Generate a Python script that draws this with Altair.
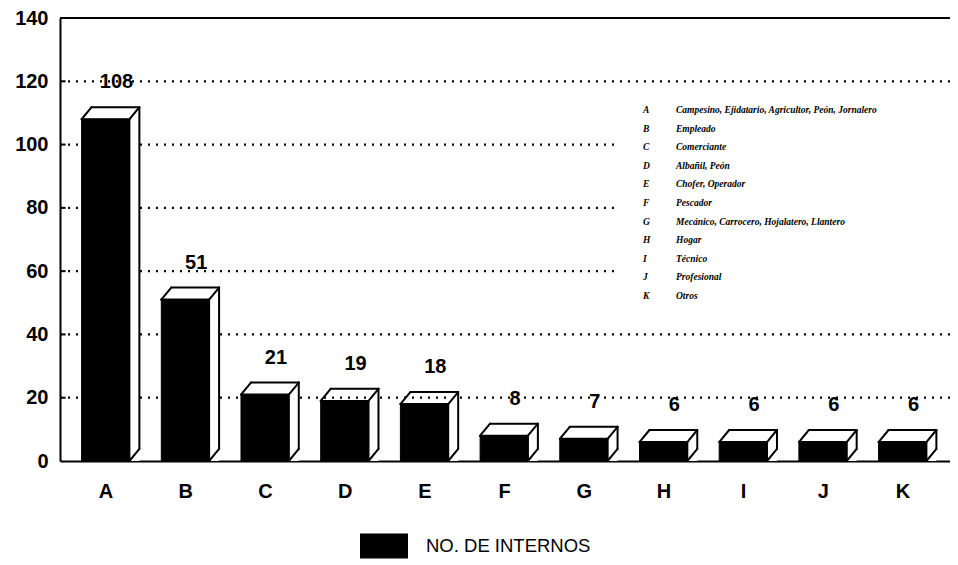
import altair as alt
import pandas as pd

# ---- data ----
categories = ["A", "B", "C", "D", "E", "F", "G", "H", "I", "J", "K"]
values = [108, 51, 21, 19, 18, 8, 7, 6, 6, 6, 6]
series_name = "NO. DE INTERNOS"
descriptions = [
    "Campesino, Ejidatario, Agricultor, Peón, Jornalero",
    "Empleado",
    "Comerciante",
    "Albañil, Peón",
    "Chofer, Operador",
    "Pescador",
    "Mecánico, Carrocero, Hojalatero, Llantero",
    "Hogar",
    "Técnico",
    "Profesional",
    "Otros",
]
y_ticks = [0, 20, 40, 60, 80, 100, 120, 140]
grid_values = [20, 40, 60, 80, 100, 120]

# ---- geometry / style constants ----
W, H = 890, 443
XMIN, XMAX = -0.571, 10.596
HW = 0.30      # half width of front face (x units)
DX = 0.125     # depth to the right (x units)
DY = 3.8       # depth upwards (y units)
FONT = "Liberation Sans"

bars = pd.DataFrame({
    "i": list(range(len(categories))),
    "cat": categories,
    "v": values,
    "series": [series_name] * len(categories),
})
bars["x0"] = bars["i"] - HW
bars["x1"] = bars["i"] + HW
bars["sx1"] = bars["i"] + HW + DX
bars["vt"] = bars["v"] + DY
bars["zero"] = 0.0

seg_rows = []
for i, v in zip(bars["i"], bars["v"]):
    seg_rows += [
        dict(x=i - HW + DX, y=v + DY, x2=i + HW + DX, y2=v + DY),   # back top edge
        dict(x=i - HW, y=v, x2=i - HW + DX, y2=v + DY),             # left diagonal
        dict(x=i + HW, y=v, x2=i + HW + DX, y2=v + DY),             # right diagonal
        dict(x=i + HW + DX, y=v + DY, x2=i + HW + DX, y2=DY),       # side right edge
        dict(x=i + HW + DX, y=DY, x2=i + HW, y2=0),                 # side bottom diagonal
        dict(x=i - HW, y=v, x2=i + HW, y2=v),                       # front top edge
        dict(x=i + HW, y=v, x2=i + HW, y2=0),                       # front right edge
    ]
segs = pd.DataFrame(seg_rows)

xscale = alt.Scale(domain=[XMIN, XMAX], nice=False, zero=False)
yscale = alt.Scale(domain=[0, 140], nice=False)

label_js = "[" + ",".join("'%s'" % c for c in categories) + "]"

xaxis = alt.Axis(
    values=list(range(len(categories))),
    labelExpr=label_js + "[datum.value]",
    title=None, ticks=False, grid=False,
    domainColor="black", domainWidth=2,
    labelFont=FONT, labelFontSize=20, labelFontWeight="bold",
    labelColor="black", labelPadding=20,
)
yaxis = alt.Axis(
    values=y_ticks, title=None, ticks=False, grid=False,
    domainColor="black", domainWidth=2,
    labelFont=FONT, labelFontSize=20, labelFontWeight="bold",
    labelColor="black", labelPadding=12,
)

grid = alt.Chart(pd.DataFrame({"g": grid_values})).mark_rule(
    color="black", strokeWidth=2.2, strokeDash=[2, 6]
).encode(y=alt.Y("g:Q", scale=yscale, axis=yaxis))

top_line = alt.Chart(pd.DataFrame({"g": [140]})).mark_rule(
    color="black", strokeWidth=2
).encode(y=alt.Y("g:Q", scale=yscale))

ticks_in = alt.Chart(pd.DataFrame({"g": grid_values})).transform_calculate(
    a=str(XMIN), b=str(XMIN + 0.07)
).mark_rule(color="black", strokeWidth=2).encode(
    x=alt.X("a:Q", scale=xscale), x2="b:Q", y=alt.Y("g:Q", scale=yscale)
)

# white panel behind the code list (hides gridlines there, as in the original)
desc_df = pd.DataFrame({
    "codes": ["\n".join(categories)],
    "descs": ["\n".join(descriptions)],
})
desc_panel = alt.Chart(desc_df).mark_rect(color="white").encode(
    x=alt.value(558), x2=alt.value(892), y=alt.value(82), y2=alt.value(284)
)

side_fill = alt.Chart(bars).mark_rect(color="white").encode(
    x=alt.X("x1:Q", scale=xscale, axis=xaxis), x2="sx1:Q",
    y=alt.Y("zero:Q", scale=yscale), y2="vt:Q",
)

front = alt.Chart(bars).mark_rect(stroke="black", strokeWidth=1).encode(
    x=alt.X("x0:Q", scale=xscale), x2="x1:Q",
    y=alt.Y("zero:Q", scale=yscale), y2="v:Q",
    color=alt.Color(
        "series:N",
        scale=alt.Scale(range=["black"]),
        legend=alt.Legend(
            title=None, orient="none", legendX=300, legendY=504,
            symbolType="M-1,-0.52H1V0.52H-1Z", symbolSize=2304,
            symbolStrokeWidth=0, labelFont=FONT, labelFontSize=18.5,
            labelColor="black", labelOffset=18, labelLimit=400,
        ),
    ),
)

outline = alt.Chart(segs).mark_rule(color="black", strokeWidth=2, strokeCap="round").encode(
    x=alt.X("x:Q", scale=xscale), x2="x2:Q",
    y=alt.Y("y:Q", scale=yscale), y2="y2:Q",
)

value_text = alt.Chart(bars).mark_text(
    font=FONT, fontSize=20, fontWeight="bold", color="black",
    dx=11, dy=-37, baseline="middle", align="center",
).encode(
    x=alt.X("i:Q", scale=xscale), y=alt.Y("v:Q", scale=yscale), text="v:Q"
)

desc_codes = alt.Chart(desc_df).mark_text(
    font="Liberation Serif", fontSize=9.5, fontWeight="bold", fontStyle="italic",
    color="black", align="left", baseline="middle", lineBreak="\n", lineHeight=18.6,
).encode(x=alt.value(583), y=alt.value(92), text="codes:N")
desc_texts = alt.Chart(desc_df).mark_text(
    font="Liberation Serif", fontSize=9.5, fontWeight="bold", fontStyle="italic",
    color="black", align="left", baseline="middle", lineBreak="\n", lineHeight=18.6,
).encode(x=alt.value(616), y=alt.value(92), text="descs:N")

chart = alt.layer(
    grid, top_line, ticks_in, desc_panel, side_fill, front, outline, value_text,
    desc_codes, desc_texts
).properties(
    width=W, height=H,
    autosize=alt.AutoSizeParams(type="none"),
    padding={"left": 52, "top": 10, "right": 0, "bottom": 100},
).configure_view(stroke=None).configure(background="white")

chart.save("out.html", embed_options={"renderer": "svg", "actions": False})
